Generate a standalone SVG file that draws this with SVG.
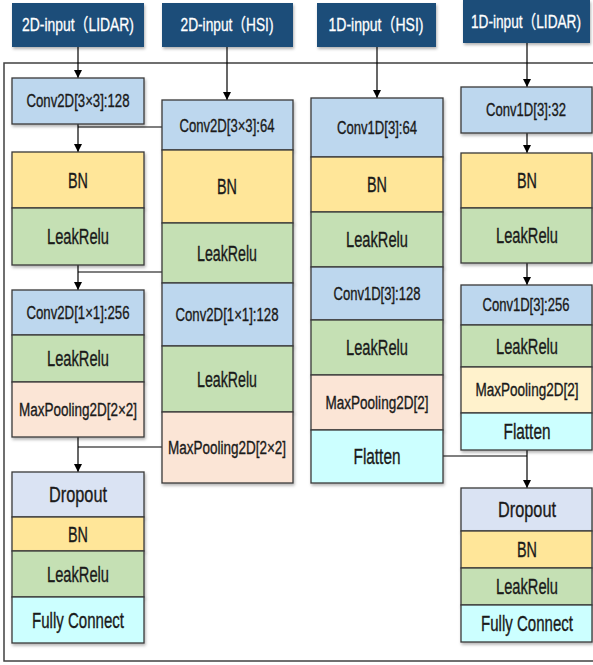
<svg xmlns="http://www.w3.org/2000/svg" width="593" height="665" viewBox="0 0 593 665">
<defs>
<filter id="sh" x="-10%" y="-10%" width="130%" height="140%">
<feDropShadow dx="1" dy="2" stdDeviation="1.5" flood-color="#000" flood-opacity="0.3"/>
</filter>
<marker id="ar" viewBox="0 0 10 10" refX="10" refY="5" markerWidth="8" markerHeight="8" markerUnits="userSpaceOnUse" orient="auto">
<path d="M0,0 L10,5 L0,10 z" fill="#000"/>
</marker>
</defs>
<style>
text{font-family:"Liberation Sans","Noto Sans CJK SC",sans-serif;text-anchor:middle;fill:#1a1a1a;stroke:#1a1a1a;stroke-width:0.35}
.hd rect{fill:#1f4e79;filter:url(#sh)}
.hd text{fill:#fff;stroke:#fff;stroke-width:0.3;font-size:18px}
.b{stroke:#3a3a3a;stroke-width:1.3;filter:url(#sh)}
.cv{fill:#bdd7ee}.bn{fill:#ffe699}.lr{fill:#c5e0b4}.mp{fill:#fbe5d6}.mp2{fill:#fff2cc}.fl{fill:#ccffff}.dr{fill:#dae3f3}
.s{font-size:18px}.m{font-size:22px}
.c line{stroke:#000;stroke-width:1.2;fill:none}
</style>
<rect x="4" y="63" width="592" height="598" fill="none" stroke="#404040" stroke-width="1.5"/>
<g class="hd">
<g id="h1"><rect x="12" y="3" width="132" height="44"/><text x="78" y="31" textLength="112" lengthAdjust="spacingAndGlyphs">2D-input（LIDAR)</text></g>
<g id="h2"><rect x="162" y="3" width="131" height="44"/><text x="227" y="31" textLength="93" lengthAdjust="spacingAndGlyphs">2D-input（HSI)</text></g>
<g id="h3"><rect x="317" y="3" width="119" height="44"/><text x="376" y="31" textLength="95" lengthAdjust="spacingAndGlyphs">1D-input（HSI)</text></g>
<g id="h4"><rect x="463" y="0" width="127" height="43"/><text x="526" y="28" textLength="110" lengthAdjust="spacingAndGlyphs">1D-input（LIDAR)</text></g>
</g>
<g class="c">
<line x1="78" y1="47" x2="78" y2="78" marker-end="url(#ar)"/>
<line x1="78" y1="124" x2="78" y2="152" marker-end="url(#ar)"/>
<line x1="162" y1="127" x2="78" y2="127"/>
<line x1="78" y1="265" x2="78" y2="290" marker-end="url(#ar)"/>
<line x1="162" y1="272" x2="78" y2="272"/>
<line x1="78" y1="437" x2="78" y2="472" marker-end="url(#ar)"/>
<line x1="162" y1="447" x2="78" y2="447"/>
<line x1="227" y1="47" x2="227" y2="100" marker-end="url(#ar)"/>
<line x1="377" y1="47" x2="377" y2="98" marker-end="url(#ar)"/>
<line x1="527" y1="43" x2="527" y2="87" marker-end="url(#ar)"/>
<line x1="527" y1="133" x2="527" y2="153" marker-end="url(#ar)"/>
<line x1="527" y1="263" x2="527" y2="285" marker-end="url(#ar)"/>
<line x1="527" y1="450" x2="527" y2="488" marker-end="url(#ar)"/>
<line x1="443" y1="456" x2="527" y2="456"/>
</g>
<g id="col1">
<g id="c1_conv"><rect class="b cv" x="12" y="78" width="132" height="46"/><text class="s" x="78" y="107" textLength="103" lengthAdjust="spacingAndGlyphs">Conv2D[3×3]:128</text></g>
<g id="c1_bn"><rect class="b bn" x="12" y="152" width="132" height="56"/><text class="m" x="78" y="188" textLength="20" lengthAdjust="spacingAndGlyphs">BN</text></g>
<g id="c1_lr"><rect class="b lr" x="12" y="208" width="132" height="57"/><text class="m" x="78" y="244" textLength="62" lengthAdjust="spacingAndGlyphs">LeakRelu</text></g>
<g id="c1_conv2"><rect class="b cv" x="12" y="290" width="132" height="45"/><text class="s" x="78" y="319" textLength="103" lengthAdjust="spacingAndGlyphs">Conv2D[1×1]:256</text></g>
<g id="c1_lr2"><rect class="b lr" x="12" y="335" width="132" height="47"/><text class="m" x="78" y="366" textLength="62" lengthAdjust="spacingAndGlyphs">LeakRelu</text></g>
<g id="c1_mp"><rect class="b mp" x="12" y="382" width="132" height="55"/><text class="s" x="78" y="416" textLength="118" lengthAdjust="spacingAndGlyphs">MaxPooling2D[2×2]</text></g>
<g id="c1_dr"><rect class="b dr" x="12" y="472" width="132" height="45"/><text class="m" x="78" y="502" textLength="58" lengthAdjust="spacingAndGlyphs">Dropout</text></g>
<g id="c1_bn2"><rect class="b bn" x="12" y="517" width="132" height="34"/><text class="m" x="78" y="541.5" textLength="20" lengthAdjust="spacingAndGlyphs">BN</text></g>
<g id="c1_lr3"><rect class="b lr" x="12" y="551" width="132" height="46"/><text class="m" x="78" y="581.5" textLength="62" lengthAdjust="spacingAndGlyphs">LeakRelu</text></g>
<g id="c1_fc"><rect class="b fl" x="12" y="597" width="132" height="46"/><text class="m" x="78" y="627.5" textLength="92" lengthAdjust="spacingAndGlyphs">Fully Connect</text></g>
</g>
<g id="col2">
<g id="c2_conv"><rect class="b cv" x="162" y="100" width="131" height="50"/><text class="s" x="227" y="132" textLength="95" lengthAdjust="spacingAndGlyphs">Conv2D[3×3]:64</text></g>
<g id="c2_bn"><rect class="b bn" x="162" y="150" width="131" height="73"/><text class="m" x="227" y="194" textLength="20" lengthAdjust="spacingAndGlyphs">BN</text></g>
<g id="c2_lr"><rect class="b lr" x="162" y="223" width="131" height="60"/><text class="m" x="227" y="260.5" textLength="60" lengthAdjust="spacingAndGlyphs">LeakRelu</text></g>
<g id="c2_conv2"><rect class="b cv" x="162" y="283" width="131" height="63"/><text class="s" x="227" y="321" textLength="103" lengthAdjust="spacingAndGlyphs">Conv2D[1×1]:128</text></g>
<g id="c2_lr2"><rect class="b lr" x="162" y="346" width="131" height="66"/><text class="m" x="227" y="386.5" textLength="60" lengthAdjust="spacingAndGlyphs">LeakRelu</text></g>
<g id="c2_mp"><rect class="b mp" x="162" y="412" width="131" height="71"/><text class="s" x="227" y="454" textLength="118" lengthAdjust="spacingAndGlyphs">MaxPooling2D[2×2]</text></g>
</g>
<g id="col3">
<g id="c3_conv"><rect class="b cv" x="311" y="98" width="132" height="59"/><text class="s" x="377" y="134" textLength="80" lengthAdjust="spacingAndGlyphs">Conv1D[3]:64</text></g>
<g id="c3_bn"><rect class="b bn" x="311" y="157" width="132" height="55"/><text class="m" x="377" y="192" textLength="20" lengthAdjust="spacingAndGlyphs">BN</text></g>
<g id="c3_lr"><rect class="b lr" x="311" y="212" width="132" height="55"/><text class="m" x="377" y="247" textLength="62" lengthAdjust="spacingAndGlyphs">LeakRelu</text></g>
<g id="c3_conv2"><rect class="b cv" x="311" y="267" width="132" height="53"/><text class="s" x="377" y="300" textLength="87" lengthAdjust="spacingAndGlyphs">Conv1D[3]:128</text></g>
<g id="c3_lr2"><rect class="b lr" x="311" y="320" width="132" height="55"/><text class="m" x="377" y="355" textLength="62" lengthAdjust="spacingAndGlyphs">LeakRelu</text></g>
<g id="c3_mp"><rect class="b mp" x="311" y="375" width="132" height="55"/><text class="s" x="377" y="409" textLength="103" lengthAdjust="spacingAndGlyphs">MaxPooling2D[2]</text></g>
<g id="c3_fl"><rect class="b fl" x="311" y="430" width="132" height="53"/><text class="m" x="377" y="464" textLength="47" lengthAdjust="spacingAndGlyphs">Flatten</text></g>
</g>
<g id="col4">
<g id="c4_conv"><rect class="b cv" x="461" y="87" width="131" height="46"/><text class="s" x="526" y="116" textLength="80" lengthAdjust="spacingAndGlyphs">Conv1D[3]:32</text></g>
<g id="c4_bn"><rect class="b bn" x="461" y="153" width="131" height="55"/><text class="m" x="527" y="188" textLength="20" lengthAdjust="spacingAndGlyphs">BN</text></g>
<g id="c4_lr"><rect class="b lr" x="461" y="208" width="131" height="55"/><text class="m" x="527" y="243" textLength="62" lengthAdjust="spacingAndGlyphs">LeakRelu</text></g>
<g id="c4_conv2"><rect class="b cv" x="461" y="285" width="131" height="40"/><text class="s" x="526" y="311" textLength="87" lengthAdjust="spacingAndGlyphs">Conv1D[3]:256</text></g>
<g id="c4_lr2"><rect class="b lr" x="461" y="325" width="131" height="42"/><text class="m" x="527" y="353.5" textLength="62" lengthAdjust="spacingAndGlyphs">LeakRelu</text></g>
<g id="c4_mp"><rect class="b mp2" x="461" y="367" width="131" height="46"/><text class="s" x="527" y="396" textLength="103" lengthAdjust="spacingAndGlyphs">MaxPooling2D[2]</text></g>
<g id="c4_fl"><rect class="b fl" x="461" y="413" width="131" height="37"/><text class="m" x="527" y="439" textLength="47" lengthAdjust="spacingAndGlyphs">Flatten</text></g>
<g id="c4_dr"><rect class="b dr" x="461" y="488" width="131" height="43"/><text class="m" x="527" y="517" textLength="58" lengthAdjust="spacingAndGlyphs">Dropout</text></g>
<g id="c4_bn2"><rect class="b bn" x="461" y="531" width="131" height="37"/><text class="m" x="527" y="557" textLength="20" lengthAdjust="spacingAndGlyphs">BN</text></g>
<g id="c4_lr3"><rect class="b lr" x="461" y="568" width="131" height="37"/><text class="m" x="527" y="594" textLength="62" lengthAdjust="spacingAndGlyphs">LeakRelu</text></g>
<g id="c4_fc"><rect class="b fl" x="461" y="605" width="131" height="37"/><text class="m" x="527" y="631" textLength="92" lengthAdjust="spacingAndGlyphs">Fully Connect</text></g>
</g>
</svg>
